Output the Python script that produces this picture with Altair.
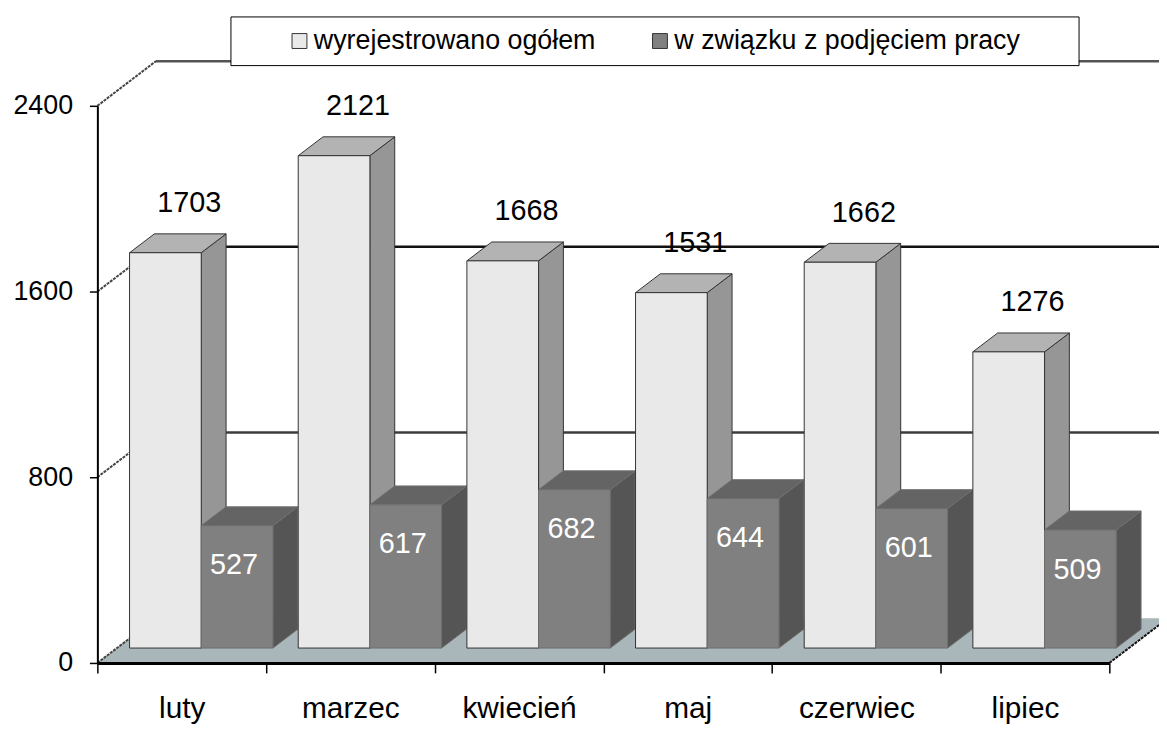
import altair as alt
import pandas as pd

# ---------------- data ----------------
months = ["luty", "marzec", "kwiecień", "maj", "czerwiec", "lipiec"]
total = [1703, 2121, 1668, 1531, 1662, 1276]
employed = [527, 617, 682, 644, 601, 509]
series_names = ["wyrejestrowano ogółem", "w związku z podjęciem pracy"]
y_ticks = [0, 800, 1600, 2400]

# ---------------- geometry / style ----------------
N = len(months)
Y_MAX = 2400
PLOT_W, PLOT_H = 1019, 561
ux = PLOT_W / N          # px per category unit
uy = PLOT_H / Y_MAX      # px per value unit
BDX, BDY = 59 / ux, 45 / uy      # full depth of the 3D box
FDX, FDY = BDX / 3, BDY / 3      # bars' front plane
SDX, SDY = 25 / ux, 19 / uy      # bar depth
GAP, BW = 0.075, 0.425
FONT = "Liberation Sans"

front_cols = ["#E9E9E9", "#808080"]
top_cols = ["#B3B3B3", "#646464"]
side_cols = ["#969696", "#555555"]
edge_cols = ["#333333", "#6E6E6E"]

rows = []
for i, m in enumerate(months):
    for s, vals in enumerate([total, employed]):
        rows.append(dict(month=m, idx=i, s=s, series=series_names[s],
                         value=vals[i], bar=f"{i}-{s}"))
bars = pd.DataFrame(rows)
ticks = pd.DataFrame({"v": y_ticks})
unit = pd.DataFrame({"k": [0, 1]})

month_arr = "[" + ",".join("'" + m + "'" for m in months) + "]"
x_axis = alt.Axis(
    values=[i * 0.5 for i in range(2 * N + 1)],
    labelExpr=f"datum.value % 1 ? {month_arr}[floor(datum.value)] : ''",
    tickSize=10, tickWidth=1.5, tickColor="black",
    tickOpacity={"condition": {"test": "datum.value % 1 != 0", "value": 0}, "value": 1},
    domainColor="black", domainWidth=3, grid=False, title=None,
    labelFont=FONT, labelFontSize=30, labelColor="black", labelPadding=21,
    labelOverlap=False, labelFlush=False, zindex=1,
)
y_axis = alt.Axis(
    values=y_ticks, format="d", tickSize=8, tickWidth=1.5, tickColor="black",
    domainColor="black", domainWidth=2, grid=False, title=None,
    labelFont=FONT, labelFontSize=27, labelColor="black", labelPadding=17,
    zindex=1,
)


def X(f, **kw):
    kw.setdefault("axis", x_axis)
    return alt.X(f"{f}:Q", scale=alt.Scale(domain=[0, N], nice=False, zero=False), **kw)


def Y(f, **kw):
    kw.setdefault("axis", y_axis)
    return alt.Y(f"{f}:Q", scale=alt.Scale(domain=[0, Y_MAX], nice=False, zero=False), **kw)


def pick(cols):
    return f"datum.s == 0 ? '{cols[0]}' : '{cols[1]}'"


base = alt.Chart(bars).transform_calculate(
    xl=f"datum.idx + {GAP} + datum.s * {BW} + {FDX}"
).transform_calculate(
    xr=f"datum.xl + {BW}",
    xc=f"datum.xl + {BW / 2}",
    yb=f"{FDY}",
    yt=f"{FDY} + datum.value",
    frontcol=pick(front_cols),
    topcol=pick(top_cols),
    sidecol=pick(side_cols),
    edgecol=pick(edge_cols),
)

folded = base.transform_calculate(p0="0", p1="1").transform_fold(
    ["p0", "p1"], as_=["corner", "k"]
)

# floor
floor = alt.Chart(unit).transform_calculate(
    fy=f"datum.k * {BDY}", fx1=f"datum.k * {BDX}", fx2=f"{N} + datum.k * {BDX}"
).mark_area(orient="horizontal", color="#A9B6BA").encode(
    y=Y("fy"), x=X("fx1", stack=False), x2=alt.X2("fx2")
)

# back wall gridlines
back_grid = alt.Chart(ticks).transform_filter("datum.v > 0").transform_calculate(
    gx1=f"{BDX}", gx2=f"{N} + {BDX}", gy=f"datum.v + {BDY}",
    gc="datum.v == 1600 ? '#111111' : (datum.v == 800 ? '#3C3C3C' : '#555555')",
).mark_rule(strokeWidth=2.5).encode(
    x=X("gx1"), x2=alt.X2("gx2"), y=Y("gy"), stroke=alt.Stroke("gc:N", scale=None)
)

# depth diagonals on the left
diag = alt.Chart(ticks).transform_calculate(
    dx1="0", dx2=f"{BDX}", dy2=f"datum.v + {BDY}"
).mark_rule(color="#444444", strokeWidth=2, strokeDash=[3, 1]).encode(
    x=X("dx1"), x2=alt.X2("dx2"), y=Y("v"), y2=alt.Y2("dy2")
)

# right floor edge
right_edge = alt.Chart(unit).transform_filter("datum.k == 0").transform_calculate(
    ex1=f"{N}", ex2=f"{N} + {BDX}", ey1="0", ey2=f"{BDY}"
).mark_rule(color="#111111", strokeWidth=2, strokeDash=[3, 1]).encode(
    x=X("ex1"), x2=alt.X2("ex2"), y=Y("ey1"), y2=alt.Y2("ey2")
)

# bar side faces
sides = folded.transform_calculate(
    sx=f"datum.xr + datum.k * {SDX}",
    slo=f"datum.yb + datum.k * {SDY}",
    shi=f"datum.yt + datum.k * {SDY}",
).mark_area(orient="vertical", strokeWidth=1).encode(
    x=X("sx"), y=Y("shi", stack=False), y2=alt.Y2("slo"), detail="bar:N",
    fill=alt.Fill("sidecol:N", scale=None), stroke=alt.Stroke("edgecol:N", scale=None),
)

# bar top faces
tops = folded.transform_calculate(
    tx1=f"datum.xl + datum.k * {SDX}",
    tx2=f"datum.xr + datum.k * {SDX}",
    ty=f"datum.yt + datum.k * {SDY}",
).mark_area(orient="horizontal", strokeWidth=1).encode(
    y=Y("ty"), x=X("tx1", stack=False), x2=alt.X2("tx2"), detail="bar:N",
    fill=alt.Fill("topcol:N", scale=None), stroke=alt.Stroke("edgecol:N", scale=None),
)

legend = alt.Legend(
    orient="none", legendX=134, legendY=-90, direction="horizontal",
    title="\u00a0", titleOrient="right", titlePadding=48, titleFontSize=27,
    symbolType="square", symbolSize=225, symbolStrokeColor="#333333",
    symbolStrokeWidth=1, symbolOffset=45, labelOffset=1, columnPadding=6,
    labelFont=FONT, labelFontSize=27, labelColor="black", labelLimit=800,
    padding=11, strokeColor="black", fillColor="white", cornerRadius=0,
)

fronts = base.mark_rect(strokeWidth=1).encode(
    x=X("xl"), x2=alt.X2("xr"),
    y=Y("yb"), y2=alt.Y2("yt"),
    color=alt.Color("series:N", scale=alt.Scale(domain=series_names, range=front_cols),
                    legend=legend),
    stroke=alt.Stroke("edgecol:N", scale=None),
)

labels_total = base.transform_filter("datum.s == 0").mark_text(
    font=FONT, fontSize=29, color="black", dx=24, dy=-50, baseline="middle"
).encode(x=X("xc"), y=Y("yt"), text="value:Q")

labels_emp = base.transform_filter("datum.s == 1").mark_text(
    font=FONT, fontSize=29, color="white", dx=-3, dy=40, baseline="middle"
).encode(x=X("xc"), y=Y("yt"), text="value:Q")

chart = alt.layer(
    floor, back_grid, diag, right_edge, sides, tops, fronts, labels_total, labels_emp
).properties(
    width=PLOT_W, height=PLOT_H,
    padding={"left": 90, "top": 96, "right": 50, "bottom": 64},
    autosize=alt.AutoSizeParams(type="none"),
    background="white",
).configure_view(strokeWidth=0)

chart.save("out.html", embed_options={"renderer": "svg", "actions": False})
